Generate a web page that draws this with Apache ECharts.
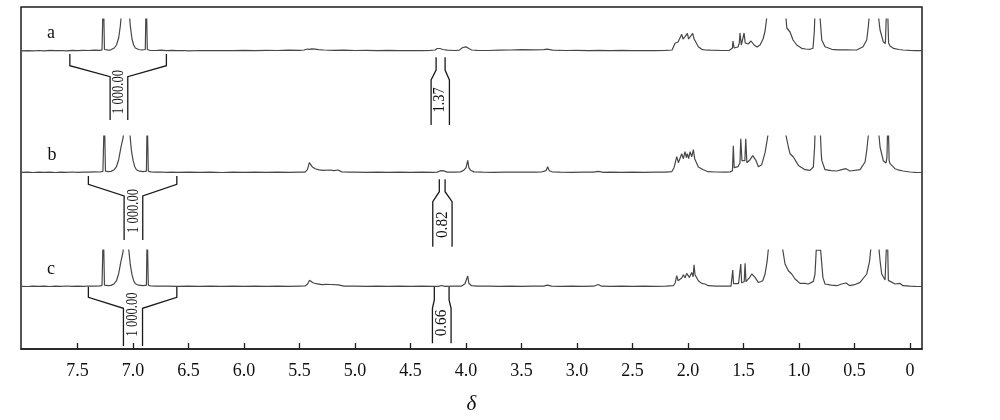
<!DOCTYPE html>
<html>
<head>
<meta charset="utf-8">
<script src="https://cdn.jsdelivr.net/npm/echarts@6/dist/echarts.min.js"></script>
<style>
html,body{margin:0;padding:0;background:#fff;}
#chart{width:1000px;height:420px;}
</style>
</head>
<body>
<div id="chart"></div>
<script>
// ---------- data (chemical shift δ / ppm, intensity in arbitrary units) ----------
const tickValues = [0, 0.5, 1.0, 1.5, 2.0, 2.5, 3.0, 3.5, 4.0, 4.5, 5.0, 5.5, 6.0, 6.5, 7.0, 7.5];
const tickLabels = ['0', '0.5', '1.0', '1.5', '2.0', '2.5', '3.0', '3.5', '4.0', '4.5', '5.0', '5.5', '6.0', '6.5', '7.0', '7.5'];
const traceNames = ['a', 'b', 'c'];
const axisTitle = 'δ';

const traceA = [
[8.01,0.2],[7.95,0.4],[7.9,0.1],[7.85,0.5],[7.8,0.2],[7.75,0.6],[7.7,0.3],[7.65,0.5],[7.6,0.2],[7.55,0.6],[7.5,0.4],[7.45,0.7],[7.4,0.5],[7.35,0.8],[7.3,0.6],
[7.28,1.2],[7.268,60],[7.258,1.5],
[7.22,0.8],[7.2,1.2],[7.17,3],[7.15,6],[7.13,13],[7.115,25],[7.1,45],[7.07,80],[7.04,45],[7.025,25],[7.01,12],[6.995,6],[6.98,3],[6.95,1.5],[6.92,1],[6.89,1.5],
[6.882,60],[6.872,1.5],
[6.85,0.7],[6.8,0.5],[6.75,0.8],[6.7,0.4],[6.65,0.6],[6.6,0.3],[6.55,0.5],[6.5,0.2],[6.4,0.5],[6.3,0.3],[6.2,0.5],[6.1,0.3],[6.0,0.6],[5.9,0.4],[5.8,0.7],[5.7,0.5],[5.6,0.8],[5.5,0.6],
[5.46,1.0],[5.43,2.0],[5.41,1.6],[5.39,2.2],[5.36,1.8],[5.33,1.3],[5.28,1.0],[5.2,0.6],[5.1,0.8],[5.0,0.5],[4.9,0.7],[4.8,0.4],[4.7,0.6],[4.6,0.3],[4.5,0.5],[4.4,0.3],[4.32,0.6],
[4.28,1.0],[4.26,2.5],[4.245,4.5],[4.235,2.5],[4.225,4.2],[4.21,1.5],[4.17,0.8],[4.1,0.5],[4.06,0.9],[4.03,3.5],[4.015,5.2],[4.0,4.2],[3.99,5],[3.975,2.5],[3.95,1],[3.9,0.6],
[3.8,0.5],[3.7,0.8],[3.6,1.0],[3.5,1.3],[3.4,1.2],[3.3,1.4],[3.27,1.8],[3.22,0.8],[3.1,0.5],[3.0,0.6],[2.9,0.3],[2.8,0.6],[2.7,0.4],[2.6,0.6],[2.5,0.3],[2.4,0.5],[2.3,0.4],[2.2,0.6],
[2.144,1],[2.117,7.7],[2.09,9],[2.073,13],[2.057,16.7],[2.045,12],[2.027,14.3],[2.006,17.7],[1.995,12],[1.982,11],[1.958,17.7],[1.945,12],[1.937,11],[1.907,4.3],[1.877,1.7],[1.847,1],[1.8,0.8],[1.7,0.5],[1.63,0.6],
[1.613,0.8],[1.6,3],[1.595,10],[1.585,3],[1.55,4],[1.538,8],[1.532,18],[1.52,6],[1.502,8],[1.495,18],[1.485,8],[1.459,7],[1.432,10],[1.405,6],[1.378,4],[1.351,6],[1.324,12],[1.306,20],[1.29,34],[1.275,50],[1.2,90],[1.13,50],[1.11,23],[1.081,19],[1.054,11],[1.021,6],[0.976,2.7],[0.94,2],[0.901,1.7],
[0.874,2.7],[0.862,20],[0.85,60],[0.835,60],[0.815,40],[0.795,11],[0.766,4.3],[0.705,1.7],[0.65,1.2],[0.6,1.2],[0.586,3],[0.572,1.2],[0.52,1],[0.48,1],[0.423,4.3],[0.39,11],[0.375,25],[0.36,45],[0.33,90],[0.29,40],[0.27,21],[0.241,9.3],[0.222,7.5],[0.206,60],[0.193,8],[0.18,5],[0.15,2.7],[0.1,1.5],[0.063,1],[0.0,0.6],[-0.05,0.4],[-0.108,0.3]
];

const traceB = [
[8.01,0.3],[7.95,0.5],[7.9,0.2],[7.85,0.6],[7.8,0.3],[7.75,0.5],[7.7,0.2],[7.65,0.6],[7.6,0.4],[7.55,0.7],[7.5,0.4],[7.45,0.6],[7.4,0.5],[7.35,0.8],[7.3,0.7],
[7.272,1.3],[7.259,60],[7.249,1.5],
[7.22,1],[7.2,1.3],[7.17,3],[7.15,6],[7.13,13],[7.11,25],[7.09,35],[7.06,80],[7.03,40],[7.015,22],[7.0,12],[6.985,6],[6.97,3],[6.94,1.5],[6.91,1],[6.88,1.5],
[6.873,60],[6.863,1.5],
[6.84,0.8],[6.8,0.5],[6.75,0.7],[6.7,0.3],[6.65,0.6],[6.6,0.4],[6.5,0.6],[6.4,0.3],[6.3,0.5],[6.2,0.2],[6.1,0.5],[6.0,0.3],[5.9,0.6],[5.8,0.4],[5.7,0.6],[5.6,0.3],[5.5,0.5],
[5.45,0.6],[5.43,3],[5.412,10],[5.387,6],[5.36,4],[5.324,2.8],[5.288,2.3],[5.225,2.7],[5.19,2],[5.153,2.7],[5.12,0.8],[5.05,0.5],[5.0,0.6],[4.9,0.3],[4.8,0.5],[4.7,0.3],[4.6,0.6],[4.5,0.4],[4.4,0.5],[4.3,0.3],
[4.26,0.6],[4.23,2],[4.215,2.7],[4.2,1.8],[4.17,0.6],[4.1,0.5],[4.05,0.8],[4.02,2.5],[4.0,5],[3.985,12.3],[3.975,5],[3.96,2.5],[3.93,0.8],[3.85,0.6],[3.75,0.4],[3.65,0.6],[3.55,0.5],[3.45,0.7],[3.38,0.5],
[3.32,0.7],[3.28,2],[3.265,6],[3.25,2],[3.22,0.7],[3.15,0.5],[3.05,0.4],[2.95,0.6],[2.85,0.5],[2.81,1.3],[2.76,0.4],[2.7,0.5],[2.6,0.3],[2.5,0.6],[2.4,0.4],[2.3,0.6],[2.2,0.5],
[2.147,1],[2.126,5],[2.102,16],[2.087,10],[2.072,12],[2.057,19],[2.042,14],[2.027,21],[2.015,15],[2.006,19],[1.994,14],[1.982,21],[1.966,16],[1.952,23],[1.94,14],[1.928,15.7],[1.907,5.7],[1.892,4],[1.862,3],[1.82,1],[1.75,0.7],[1.66,0.6],
[1.62,0.8],[1.6,2],[1.592,27],[1.584,5],[1.55,6],[1.532,10],[1.525,34],[1.514,12],[1.502,10],[1.488,12],[1.48,34],[1.47,10],[1.462,9],[1.441,13],[1.417,17],[1.387,12],[1.366,6],[1.336,8],[1.306,20],[1.288,32],[1.277,40],[1.2,90],[1.13,55],[1.117,37],[1.096,25.7],[1.081,19],[1.051,15.7],[1.006,7.3],[0.946,3],[0.901,2.3],
[0.871,5.7],[0.86,25],[0.85,60],[0.83,80],[0.81,45],[0.8,20],[0.795,12.3],[0.766,3],[0.71,2],[0.66,1.7],[0.615,3],[0.577,4],[0.541,1.7],[0.45,3],[0.405,10.7],[0.39,22],[0.376,37],[0.34,90],[0.3,60],[0.28,38],[0.27,25.7],[0.241,12],[0.216,9.7],[0.208,15],[0.198,60],[0.188,12],[0.18,9],[0.135,4],[0.1,2.5],[0.063,1.7],[0.0,0.7],[-0.05,0.4],[-0.108,0.2]
];

const traceC = [
[8.01,0.4],[7.95,0.2],[7.9,0.6],[7.85,0.3],[7.8,0.5],[7.75,0.2],[7.7,0.6],[7.65,0.4],[7.6,0.7],[7.55,0.3],[7.5,0.6],[7.45,0.4],[7.4,0.7],[7.35,0.5],[7.3,0.8],
[7.28,1.4],[7.268,60],[7.258,1.6],
[7.22,1],[7.2,1.3],[7.17,3],[7.15,6],[7.13,13],[7.11,25],[7.09,35],[7.063,80],[7.04,38],[7.025,22],[7.01,12],[6.995,6],[6.98,3],[6.95,1.5],[6.91,1],[6.88,1.5],
[6.873,60],[6.863,1.5],
[6.84,0.7],[6.8,0.5],[6.7,0.6],[6.6,0.3],[6.5,0.5],[6.4,0.3],[6.3,0.6],[6.2,0.3],[6.1,0.5],[6.0,0.4],[5.9,0.6],[5.8,0.3],[5.7,0.5],[5.6,0.4],[5.5,0.6],
[5.45,0.7],[5.43,2.5],[5.41,6.5],[5.38,4],[5.35,3],[5.3,2],[5.26,2.4],[5.22,2.2],[5.15,1.8],[5.1,0.6],[5.0,0.5],[4.9,0.3],[4.8,0.5],[4.7,0.3],[4.6,0.5],[4.5,0.3],[4.4,0.5],[4.3,0.4],
[4.25,0.4],[4.22,1.2],[4.19,0.4],[4.1,0.5],[4.04,0.6],[4.01,3],[3.985,10.7],[3.975,3.5],[3.95,1],[3.9,0.5],[3.8,0.6],[3.7,0.4],[3.6,0.6],[3.5,0.4],[3.4,0.6],[3.3,0.5],[3.265,1.6],[3.23,0.5],
[3.15,0.4],[3.05,0.6],[2.95,0.4],[2.85,0.5],[2.81,2.2],[2.78,0.5],[2.7,0.4],[2.6,0.6],[2.5,0.3],[2.4,0.5],[2.3,0.3],[2.2,0.5],
[2.132,1],[2.115,4],[2.102,11],[2.09,6],[2.072,7],[2.055,9],[2.042,12],[2.027,9],[2.012,13.3],[1.988,9.3],[1.967,14.3],[1.954,10],[1.946,22],[1.937,12],[1.928,12.7],[1.907,6],[1.877,3.3],[1.847,2.7],[1.817,1],[1.75,0.6],[1.66,0.5],
[1.613,0.5],[1.605,1.5],[1.597,16.7],[1.59,3],[1.577,2.7],[1.545,3],[1.532,5],[1.525,22.7],[1.517,4],[1.507,3.3],[1.494,5],[1.486,23.3],[1.478,5],[1.465,4.3],[1.446,9],[1.426,12.7],[1.396,9.3],[1.367,4.3],[1.347,5],[1.327,6],[1.306,12.7],[1.288,25],[1.277,37],[1.2,90],[1.16,55],[1.147,37],[1.126,22.7],[1.096,16],[1.066,12.7],[1.036,7.7],[0.991,3.3],[0.946,3.3],[0.916,2.7],
[0.871,5.3],[0.856,12.7],[0.845,36.5],[0.83,36.6],[0.805,36.5],[0.785,9.3],[0.766,2.7],[0.71,1.5],[0.66,1],[0.615,2.7],[0.577,3.7],[0.541,1],[0.5,2],[0.45,4.3],[0.39,12.7],[0.365,25],[0.354,37],[0.32,90],[0.285,45],[0.27,26],[0.255,12.7],[0.225,6.7],[0.215,7],[0.205,60],[0.195,6.3],[0.186,6],[0.135,2.7],[0.09,3.3],[0.063,1],[0.0,0.5],[-0.05,0.3],[-0.108,0.2]
];

// integration brackets: [upper-left δ, upper-right δ, lower-left δ, lower-right δ]
const integralsA = [[7.57, 6.70, 7.207, 7.048], [4.270, 4.189, 4.315, 4.150]];
const integralsB = [[7.403, 6.606, 7.081, 6.913], [4.241, 4.189, 4.300, 4.126]];
const integralsC = [[7.403, 6.606, 7.087, 6.915], [4.286, 4.153, 4.303, 4.135]];
const integralLabelsA = ['1 000.00', '1.37'];
const integralLabelsB = ['1 000.00', '0.82'];
const integralLabelsC = ['1 000.00', '0.66'];

// ---------- layout / style ----------
const XMIN = -0.108, XMAX = 8.01;
const LEFT = 21, RIGHT = 78;
const SERIF = '"Liberation Serif", "DejaVu Serif", serif';
const panels = [
  {top: 19,  height: 106, ymin: -74,   ymax: 32,   data: traceA, ints: integralsA, labels: integralLabelsA,
   geom: [{t:3, k:14.7, s:25.7, b:69, ty:41, fs:17, sx:0.74}, {t:6.3, k:19, s:29, b:74, ty:49, fs:16, sx:0.9}],
   nameX: 51, nameY: 33},
  {top: 136, height: 111, ymin: -74.3, ymax: 36.7, data: traceB, ints: integralsB, labels: integralLabelsB,
   geom: [{t:3.3, k:11.6, s:23.3, b:67.3, ty:38.3, fs:17, sx:0.74}, {t:6.6, k:19, s:29, b:74, ty:52, fs:16, sx:0.95}],
   nameX: 52, nameY: 155},
  {top: 250, height: 96,  ymin: -59.3, ymax: 36.7, data: traceC, ints: integralsC, labels: integralLabelsC,
   geom: [{t:0, k:10.6, s:21.6, b:59.3, ty:27.8, fs:17, sx:0.74}, {t:0, k:13.3, s:21.6, b:56.6, ty:36.3, fs:16, sx:0.95}],
   nameX: 51, nameY: 269}
];

const grids = [{left: LEFT, right: RIGHT, top: 7, bottom: 71, show: true, borderColor: '#1e1e1e', borderWidth: 1.5, backgroundColor: 'transparent'}];
const xAxes = [{
  gridIndex: 0, type: 'value', min: XMIN, max: XMAX, inverse: true,
  axisLine: {show: true, lineStyle: {color: '#1e1e1e', width: 1.6}},
  axisTick: {show: true, inside: true, length: 6, customValues: tickValues, lineStyle: {color: '#1e1e1e', width: 1.3}},
  axisLabel: {show: true, customValues: tickValues, margin: 13, fontFamily: SERIF, fontSize: 18, color: '#111',
    formatter: function (v) { const i = tickValues.findIndex(t => Math.abs(t - v) < 1e-6); return i >= 0 ? tickLabels[i] : ''; }},
  splitLine: {show: false},
  name: axisTitle, nameLocation: 'middle', nameGap: 45,
  nameTextStyle: {fontFamily: SERIF, fontStyle: 'italic', fontSize: 21, color: '#111'}
}];
const yAxes = [{gridIndex: 0, type: 'value', min: 0, max: 1, show: false}];
const series = [];
const graphics = [];

panels.forEach(function (p, idx) {
  const gi = idx + 1;
  grids.push({left: LEFT, right: RIGHT, top: p.top, height: p.height, show: false});
  xAxes.push({gridIndex: gi, type: 'value', min: XMIN, max: XMAX, inverse: true, show: false});
  yAxes.push({gridIndex: gi, type: 'value', min: p.ymin, max: p.ymax, show: false});
  series.push({
    type: 'line', xAxisIndex: gi, yAxisIndex: gi, data: p.data, showSymbol: false, clip: true,
    lineStyle: {color: '#474747', width: 1.2}, animation: false, silent: true
  });
  series.push({
    type: 'custom', xAxisIndex: gi, yAxisIndex: gi, clip: false, animation: false, silent: true,
    encode: {x: [0, 1, 2, 3], y: 4},
    data: p.ints.map(r => r.concat([0])),
    renderItem: function (params, api) {
      const g = p.geom[params.dataIndex];
      const c0 = api.coord([api.value(0), 0]);
      const yb = c0[1];
      const xa = c0[0];
      const xb = api.coord([api.value(1), 0])[0];
      const xc = api.coord([api.value(2), 0])[0];
      const xd = api.coord([api.value(3), 0])[0];
      const st = {stroke: '#1a1a1a', lineWidth: 1.3, fill: 'none'};
      return {type: 'group', children: [
        {type: 'polyline', shape: {points: [[xa, yb + g.t], [xa, yb + g.k], [xc, yb + g.s], [xc, yb + g.b]]}, style: st},
        {type: 'polyline', shape: {points: [[xb, yb + g.t], [xb, yb + g.k], [xd, yb + g.s], [xd, yb + g.b]]}, style: st},
        {type: 'text', x: (xc + xd) / 2, y: yb + g.ty, rotation: Math.PI / 2, scaleX: g.sx,
         style: {text: p.labels[params.dataIndex], font: g.fs + 'px ' + SERIF, fill: '#111', align: 'center', verticalAlign: 'middle'}}
      ]};
    }
  });
  graphics.push({type: 'text', x: p.nameX, y: p.nameY,
    style: {text: traceNames[idx], font: '18px ' + SERIF, fill: '#111', align: 'center', verticalAlign: 'middle'}});
});

const chart = echarts.init(document.getElementById('chart'), null, {renderer: 'canvas'});
chart.setOption({
  animation: false,
  backgroundColor: '#fff',
  grid: grids,
  xAxis: xAxes,
  yAxis: yAxes,
  series: series,
  graphic: graphics
});
</script>
</body>
</html>
